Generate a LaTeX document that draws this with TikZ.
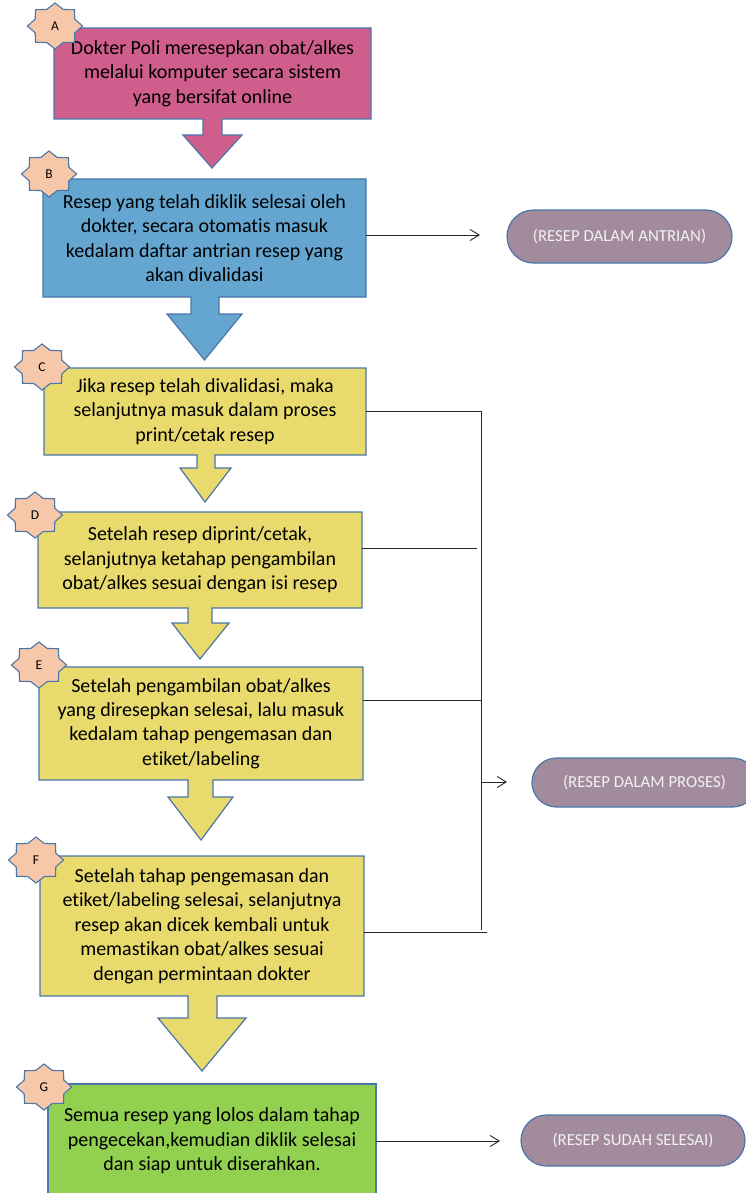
\documentclass[tikz,border=0pt]{standalone}
\usepackage{fontspec}
\setmainfont{Carlito}[Ligatures=NoCommon]
\usetikzlibrary{arrows.meta,shapes.misc}
\definecolor{bord}{HTML}{4A76A8}
\definecolor{pinkf}{HTML}{CF5E8D}
\definecolor{bluef}{HTML}{65A6D1}
\definecolor{yelf}{HTML}{E8DA6D}
\definecolor{greenf}{HTML}{92D050}
\definecolor{peach}{HTML}{F7C7A9}
\definecolor{mauve}{HTML}{A38B9E}
\definecolor{ovtext}{HTML}{F2F2F2}
\definecolor{linec}{HTML}{262626}
\tikzset{
  shapebox/.style={draw=bord, line width=1.2pt, line join=miter},
  boxtext/.style={inner sep=0pt, align=center, font=\fontsize{20}{24.4}\selectfont, text=black},
  starsty/.style={draw=bord, fill=peach, line width=1.1pt},
  letter/.style={inner sep=0pt, font=\fontsize{13.5}{15}\selectfont},
  oval/.style={rounded rectangle, draw=bord, line width=1.2pt, fill=mauve, text=ovtext, font=\fontsize{16.8}{20}\selectfont, inner sep=0pt},
  conn/.style={draw=linec, line width=0.9pt},
  arrowconn/.style={-{Straight Barb[length=9pt,width=11pt,line width=0.9pt]}}
}
\newcommand\octstar[1]{%
  \begin{scope}[shift={#1},xscale=27.5,yscale=23]
    \draw[starsty] (90:1) \foreach \k in {1,...,15}{ -- ({90+22.5*\k}:{ifthenelse(isodd(\k),0.78,1)}) } -- cycle;
  \end{scope}}
\begin{document}
\begin{tikzpicture}[x=1pt,y=-1pt]
\useasboundingbox (0,0) rectangle (746,1193);
\clip (0,0) rectangle (746,1193);
% A
\draw[shapebox, fill=pinkf] (54,28) -- (371,28) -- (371,119) -- (222,119) -- (222,135) -- (242,135) -- (212,168) -- (183,135) -- (203,135) -- (203,119) -- (54,119) -- cycle;
\node[boxtext, minimum width=317, minimum height=91] (a) at (212.5,73.5) {Dokter Poli meresepkan obat/alkes\\melalui komputer secara sistem\\yang bersifat online};
% B
\draw[shapebox, fill=bluef] (43,179) -- (366,179) -- (366,297) -- (219,297) -- (219,314) -- (242,314) -- (204.5,360) -- (167,314) -- (191,314) -- (191,297) -- (43,297) -- cycle;
\node[boxtext, minimum width=323, minimum height=118] (b) at (204.5,238) {Resep yang telah diklik selesai oleh\\dokter, secara otomatis masuk\\kedalam daftar antrian resep yang\\akan divalidasi};
% C
\draw[shapebox, fill=yelf] (44,368) -- (366,368) -- (366,455) -- (215,455) -- (215,468) -- (231,468) -- (205,502) -- (180,468) -- (197,468) -- (197,455) -- (44,455) -- cycle;
\node[boxtext, minimum width=322, minimum height=87] (c) at (205,411.5) {Jika resep telah divalidasi, maka\\selanjutnya masuk dalam proses\\print/cetak resep};
% D
\draw[shapebox, fill=yelf] (38,512) -- (362,512) -- (362,608) -- (212,608) -- (212,623) -- (229,623) -- (200,659) -- (172,623) -- (188,623) -- (188,608) -- (38,608) -- cycle;
\node[boxtext, minimum width=324, minimum height=96] (d) at (200,560) {Setelah resep diprint/cetak,\\selanjutnya ketahap pengambilan\\obat/alkes sesuai dengan isi resep};
% E
\draw[shapebox, fill=yelf] (39,667) -- (363,667) -- (363,780) -- (213,780) -- (213,797) -- (233,797) -- (201,840) -- (168,797) -- (188,797) -- (188,780) -- (39,780) -- cycle;
\node[boxtext, minimum width=324, minimum height=113] (e) at (201,723.5) {Setelah pengambilan obat/alkes\\yang diresepkan selesai, lalu masuk\\kedalam tahap pengemasan dan\\etiket/labeling};
% F
\draw[shapebox, fill=yelf] (40,856) -- (364,856) -- (364,996) -- (217,996) -- (217,1018) -- (246,1018) -- (202,1071) -- (158,1018) -- (188,1018) -- (188,996) -- (40,996) -- cycle;
\node[boxtext, minimum width=324, minimum height=140] (f) at (202,926) {Setelah tahap pengemasan dan\\etiket/labeling selesai, selanjutnya\\resep akan dicek kembali untuk\\memastikan obat/alkes sesuai\\dengan permintaan dokter};
% G
\draw[shapebox, fill=greenf] (48,1084) rectangle (376,1210);
\node[boxtext, minimum width=328, minimum height=114] (g) at (212,1141) {Semua resep yang lolos dalam tahap\\pengecekan,kemudian diklik selesai\\dan siap untuk diserahkan.};
% stars
\octstar{(55,26)}   \node[letter] (sA) at (55,26) {A};
\octstar{(49,174)}  \node[letter] (sB) at (49,174) {B};
\octstar{(42,367)}  \node[letter] (sC) at (42,367) {C};
\octstar{(35,515)}  \node[letter] (sD) at (35,515) {D};
\octstar{(39,665)}  \node[letter] (sE) at (39,665) {E};
\octstar{(36,860)}  \node[letter] (sF) at (36,860) {F};
\octstar{(44,1087)} \node[letter] (sG) at (44,1087) {G};
% ovals
\node[oval, minimum width=225, minimum height=53] (o1) at (619.5,236.5) {(RESEP DALAM ANTRIAN)};
\node[oval, minimum width=225, minimum height=49] (o2) at (644.5,782.5) {(RESEP DALAM PROSES)};
\node[oval, minimum width=224, minimum height=51] (o3) at (633,1140.5) {(RESEP SUDAH SELESAI)};
% connectors
\coordinate (q1) at (480,235);
\draw[conn, arrowconn] ([yshift=3pt]b.east) -- (q1);
\coordinate (vb) at (481,930);
\draw[conn] (c.east) -| (vb);
\coordinate (dq) at (477,548);
\draw[conn] ([yshift=12pt]d.east) -- (dq);
\coordinate (eq) at (481,700);
\draw[conn] ([yshift=23.5pt]e.east) -- (eq);
\coordinate (fq) at (487,932);
\draw[conn] ([yshift=-6pt]f.east) -- (fq);
\coordinate (pm) at (481,782);
\coordinate (pq) at (507,782);
\draw[conn, arrowconn] (pm) -- (pq);
\coordinate (q3) at (500,1141);
\draw[conn, arrowconn] (g.east) -- (q3);
\end{tikzpicture}
\end{document}
